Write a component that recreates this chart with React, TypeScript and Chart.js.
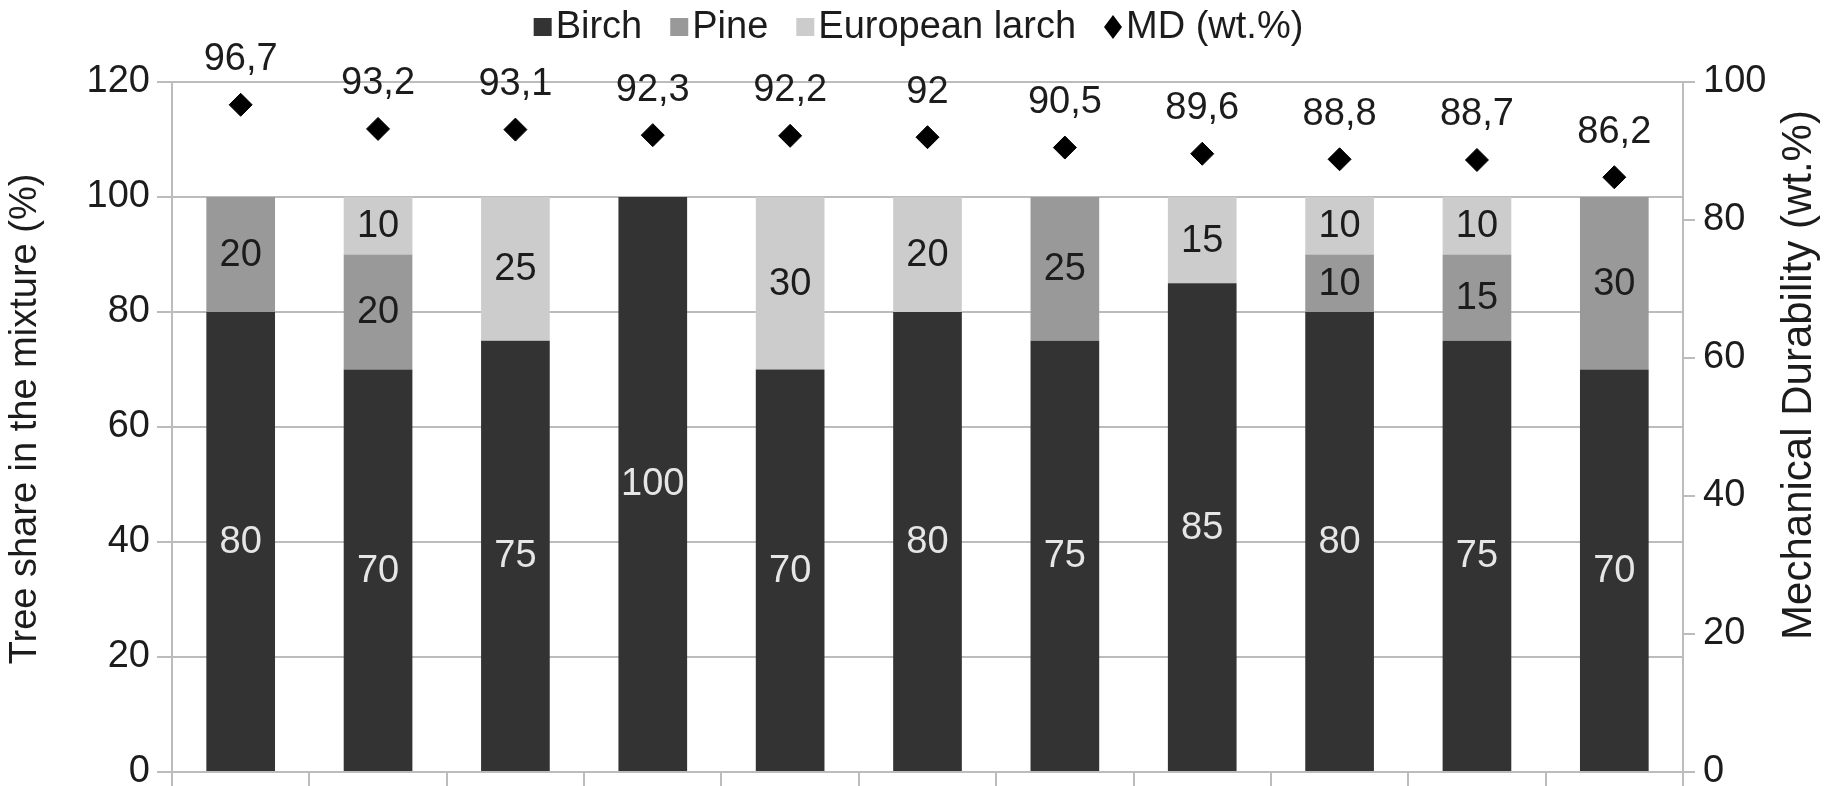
import React, { useEffect, useRef } from "react";
import { Chart, registerables } from "chart.js";

Chart.register(...registerables);

const categories = ["1", "2", "3", "4", "5", "6", "7", "8", "9", "10", "11"];
const birch = [80, 70, 75, 100, 70, 80, 75, 85, 80, 75, 70];
const pine = [20, 20, 0, 0, 0, 0, 25, 0, 10, 15, 30];
const larch = [0, 10, 25, 0, 30, 20, 0, 15, 10, 10, 0];
const md = [96.7, 93.2, 93.1, 92.3, 92.2, 92, 90.5, 89.6, 88.8, 88.7, 86.2];
const seriesNames = ["Birch", "Pine", "European larch", "MD (wt.%)"];
const seriesColors = ["#333333", "#999999", "#cccccc", "#000000"];
const leftAxisTitle = "Tree share in the mixture (%)";
const rightAxisTitle = "Mechanical Durability (wt.%)";
const leftTickMax = 120;
const rightTickMax = 100;
const tickStep = 20;

const FONT = '"Liberation Sans Narrow", "Liberation Sans", Arial, sans-serif';
const FS = 38;
const TEXT = "#1c1c1c";
const GRID = "#bcbcbc";

const overlayPlugin = {
  id: "overlay",
  afterDatasetsDraw(chart: any) {
    const ctx = chart.ctx;
    ctx.save();
    ctx.font = `${FS}px ${FONT}`;
    ctx.textAlign = "center";
    ctx.textBaseline = "middle";
    for (let d = 0; d < 3; d++) {
      const meta = chart.getDatasetMeta(d);
      const ds = chart.data.datasets[d];
      meta.data.forEach((el: any, i: number) => {
        const v = ds.data[i];
        if (!v) return;
        ctx.fillStyle = d === 0 ? "#e6e6e6" : TEXT;
        ctx.fillText(String(v), el.x, (el.y + el.base) / 2 + 1);
      });
    }
    const pm = chart.getDatasetMeta(3);
    pm.data.forEach((el: any, i: number) => {
      ctx.fillStyle = TEXT;
      ctx.fillText(String(md[i]).replace(".", ","), el.x, el.y - 45);
    });
    // axis titles
    const ca = chart.chartArea;
    const midY = (ca.top + ca.bottom) / 2;
    ctx.fillStyle = TEXT;
    ctx.save();
    ctx.translate(26, midY - 8);
    ctx.rotate(-Math.PI / 2);
    ctx.fillText(leftAxisTitle, 0, 0);
    ctx.restore();
    ctx.save();
    ctx.font = `${FS + 4}px ${FONT}`;
    ctx.translate(chart.width - 38, midY - 52);
    ctx.rotate(-Math.PI / 2);
    ctx.fillText(rightAxisTitle, 0, 0);
    ctx.restore();
    // legend
    const box = 18;
    const gapBox = 4;
    const gapItem = 28;
    const widths = seriesNames.map((n) => ctx.measureText(n).width);
    const total =
      widths.reduce((a: number, b: number) => a + b, 0) +
      seriesNames.length * (box + gapBox) +
      (seriesNames.length - 1) * gapItem;
    let x = chart.width / 2 - total / 2;
    const ly = 27;
    ctx.textAlign = "left";
    seriesNames.forEach((n, i) => {
      ctx.fillStyle = seriesColors[i];
      if (i < 3) {
        ctx.fillRect(x, ly - box / 2, box, box);
      } else {
        ctx.beginPath();
        ctx.moveTo(x + box / 2, ly - 12);
        ctx.lineTo(x + box, ly);
        ctx.lineTo(x + box / 2, ly + 12);
        ctx.lineTo(x, ly);
        ctx.closePath();
        ctx.fill();
      }
      x += box + gapBox;
      ctx.fillStyle = TEXT;
      ctx.fillText(n, x, ly + 1);
      x += widths[i] + gapItem;
    });
    ctx.restore();
  },
};

export default function App() {
  const ref = useRef<HTMLCanvasElement>(null);
  useEffect(() => {
    if (!ref.current) return;
    const font = { family: FONT, size: FS };
    const chart = new Chart(ref.current, {
      type: "bar",
      data: {
        labels: categories,
        datasets: [
          { label: seriesNames[0], data: birch, backgroundColor: seriesColors[0], stack: "s", yAxisID: "y", barPercentage: 0.5, categoryPercentage: 1, order: 2 },
          { label: seriesNames[1], data: pine, backgroundColor: seriesColors[1], stack: "s", yAxisID: "y", barPercentage: 0.5, categoryPercentage: 1, order: 2 },
          { label: seriesNames[2], data: larch, backgroundColor: seriesColors[2], stack: "s", yAxisID: "y", barPercentage: 0.5, categoryPercentage: 1, order: 2 },
          {
            type: "line",
            label: seriesNames[3],
            data: md,
            yAxisID: "y1",
            showLine: false,
            pointStyle: "rectRot",
            pointRadius: 11.5,
            pointBackgroundColor: "#000",
            pointBorderColor: "#000",
            borderColor: "#000",
            backgroundColor: "#000",
            order: 1,
          } as any,
        ],
      },
      options: {
        animation: false,
        responsive: false,
        maintainAspectRatio: false,
        layout: { padding: { top: 82, left: 0, right: 0, bottom: 0 } },
        plugins: { legend: { display: false }, tooltip: { enabled: false } },
        scales: {
          x: {
            stacked: true,
            offset: true,
            grid: { display: true, drawOnChartArea: false, drawTicks: true, tickLength: 14, color: GRID, lineWidth: 2, offset: true },
            border: { display: true, color: GRID, width: 2 },
            ticks: { display: false },
          },
          y: {
            stacked: true,
            position: "left",
            min: 0,
            max: leftTickMax,
            ticks: { stepSize: tickStep, font, color: TEXT, padding: 7 },
            grid: { color: GRID, lineWidth: 2, tickLength: 15 },
            border: { color: GRID, width: 2 },
            afterFit: (s: any) => {
              s.width = 172;
              s.paddingTop = 0;
              s.paddingBottom = 0;
            },
          },
          y1: {
            position: "right",
            min: 0,
            max: rightTickMax,
            ticks: { stepSize: tickStep, font, color: TEXT, padding: 8 },
            grid: { drawOnChartArea: false, color: GRID, lineWidth: 2, tickLength: 12 },
            border: { color: GRID, width: 2 },
            afterFit: (s: any) => {
              s.width = 154;
              s.paddingTop = 0;
              s.paddingBottom = 0;
            },
          },
        },
      } as any,
      plugins: [overlayPlugin],
    });
    return () => chart.destroy();
  }, []);
  return (
    <div style={{ position: "fixed", left: 0, top: 0, width: 1837, height: 786, background: "#fff", overflow: "hidden" }}>
      <canvas ref={ref} width={1837} height={786} style={{ width: 1837, height: 786, display: "block" }} />
    </div>
  );
}
